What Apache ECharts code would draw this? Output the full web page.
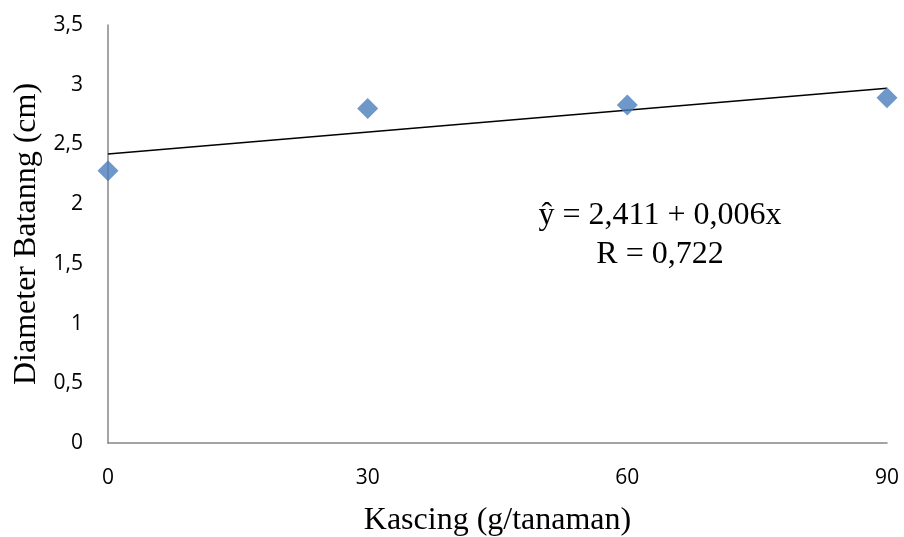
<!DOCTYPE html>
<html>
<head>
<meta charset="utf-8">
<script src="https://cdn.jsdelivr.net/npm/echarts@6/dist/echarts.min.js"></script>
<style>
  html, body { margin: 0; padding: 0; background: #fff; }
  #main { width: 904px; height: 537px; }
</style>
</head>
<body>
<div id="main"></div>
<script>
// data
const kascing = [0, 30, 60, 90];
const diameter = [2.28, 2.80, 2.83, 2.89];
const trendX = [0, 90];
const trendY = [2.42, 2.97];
const equationLines = ['ŷ = 2,411 + 0,006x', 'R = 0,722'];

const chartDom = document.getElementById('main');
const myChart = echarts.init(chartDom);

const fmt = (v) => String(v).replace('.', ',');

const option = {
  animation: false,
  grid: { left: 108, right: 17, top: 25, bottom: 94, outerBoundsMode: 'none' },
  xAxis: {
    type: 'value',
    min: 0,
    max: 90,
    interval: 30,
    name: 'Kascing (g/tanaman)',
    nameLocation: 'middle',
    nameGap: 62,
    nameTextStyle: { fontFamily: 'Liberation Serif', fontSize: 32, color: '#000' },
    axisLine: { lineStyle: { color: '#868686', width: 1.5 } },
    axisTick: { show: false },
    splitLine: { show: false },
    axisLabel: { margin: 25, fontFamily: 'Open Sans', fontSize: 21, color: '#000', formatter: fmt }
  },
  yAxis: {
    type: 'value',
    min: 0,
    max: 3.5,
    interval: 0.5,
    name: 'Diameter Batanng (cm)',
    nameLocation: 'middle',
    nameGap: 65,
    nameTextStyle: { fontFamily: 'Liberation Serif', fontSize: 32, color: '#000' },
    axisLine: { show: true, lineStyle: { color: '#868686', width: 1.5 } },
    axisTick: { show: false },
    splitLine: { show: false },
    axisLabel: { margin: 25, fontFamily: 'Open Sans', fontSize: 21, color: '#000', formatter: fmt }
  },
  series: [
    {
      type: 'line',
      data: trendX.map((x, i) => [x, trendY[i]]),
      symbol: 'none',
      lineStyle: { color: '#000', width: 1.5 },
      z: 2
    },
    {
      type: 'scatter',
      data: kascing.map((x, i) => [x, diameter[i]]),
      symbol: 'diamond',
      symbolSize: [21, 21],
      itemStyle: { color: '#4A7EBB' },
      z: 3
    }
  ],
  graphic: equationLines.map((t, i) => ({
    type: 'text',
    x: 660,
    y: 216 + i * 39,
    style: {
      text: t,
      font: '32px "Liberation Serif"',
      fill: '#000',
      align: 'center',
      verticalAlign: 'middle'
    }
  }))
};

myChart.setOption(option);
</script>
</body>
</html>
